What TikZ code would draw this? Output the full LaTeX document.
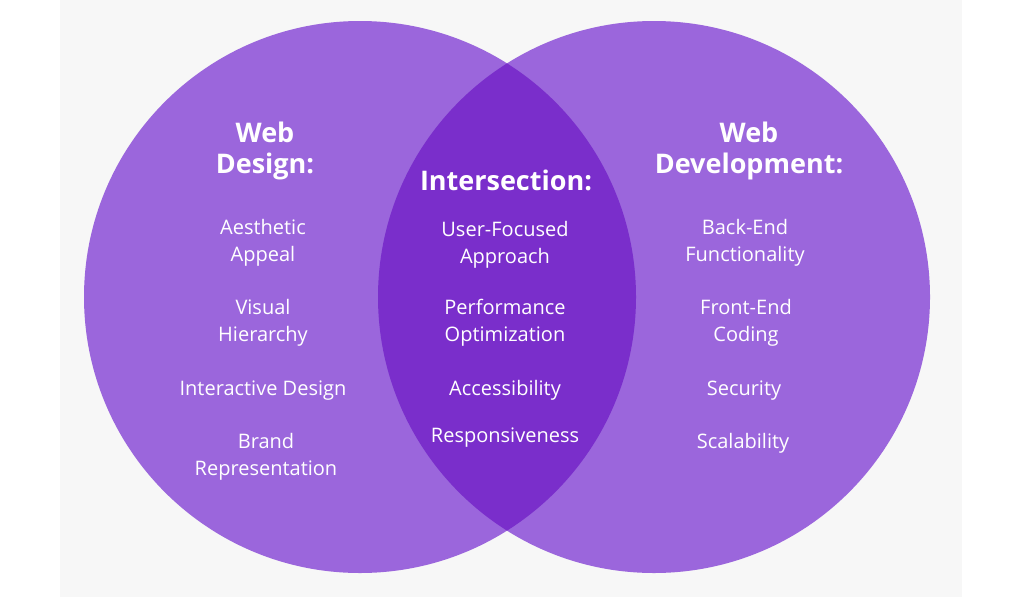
\documentclass[tikz,border=0pt]{standalone}
\usepackage{fontspec}
\setmainfont{Open Sans}
\usetikzlibrary{positioning}
\definecolor{vennlight}{HTML}{9B66DC}
\definecolor{venndark}{HTML}{7A2ECB}
\begin{document}
\begin{tikzpicture}[x=1pt,y=-1pt,
    head/.style={font=\fontsize{27}{31}\selectfont\bfseries, text=white, align=center},
    item/.style={font=\fontsize{20}{27}\selectfont, text=white, align=center}]
    \useasboundingbox[fill=white] (0,0) rectangle (1024,597);
    \fill[black!3] (60,0) rectangle (962,597);

    % Circles
    \fill[vennlight] (360,297) circle (276);
    \fill[vennlight] (654,297) circle (276);
    \begin{scope}
        \clip (360,297) circle (276);
        \fill[venndark] (654,297) circle (276);
    \end{scope}

    % Left: design
    \node[head] (design) at (265,151) {Web\\Design:};
    \node[item] (aesth) at (263,243) {Aesthetic\\Appeal};
    \node[item] (visual) at (263,323) {Visual\\Hierarchy};
    \node[item] (inter) at (263,391) {Interactive Design};
    \node[item] (brand) at (266,457) {Brand\\Representation};

    % Middle: intersection
    \node[head] (mid) at (506,180) {Intersection:};
    \node[item] (user) at (505,245) {User-Focused\\Approach};
    \node[item] (perf) at (505,323) {Performance\\Optimization};
    \node[item] (access) at (505,390) {Accessibility};
    \node[item] (resp) at (505,438) {Responsiveness};

    % Right: development
    \node[head] (dev) at (749,151) {Web\\Development:};
    \node[item] (back) at (745,243) {Back-End\\Functionality};
    \node[item] (front) at (746,323) {Front-End\\Coding};
    \node[item] (sec) at (744,391) {Security};
    \node[item] (scal) at (743,443) {Scalability};
\end{tikzpicture}
\end{document}
